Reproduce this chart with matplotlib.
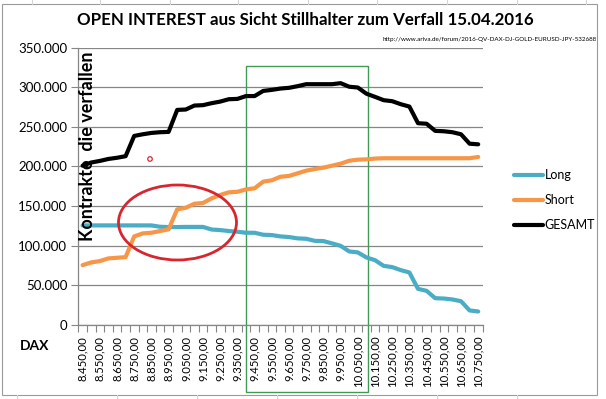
import numpy as np
import matplotlib
matplotlib.use("Agg")
import matplotlib.pyplot as plt
import matplotlib.patches as patches
from matplotlib.ticker import FuncFormatter

# strikes (DAX) and open interest, in thousand contracts
strikes = list(range(8450, 10751, 50))
long_k = [125.5, 125.5, 125.5, 125.5, 125.5, 125.5, 125.5, 125.5, 125.5,
          123.8, 123.4, 123.4, 123.6, 123.6, 123.6,
          120.3, 119.6, 118.4, 117.5, 116.2, 116.2, 113.7, 113.3, 111.6, 110.8,
          109.1, 108.6, 106.0, 105.7, 102.8, 99.7,
          92.6, 91.4, 85.0, 81.6, 74.4, 72.8, 69.0, 66.0, 45.3, 42.8,
          33.5, 33.1, 31.9, 29.7, 18.0, 16.7]
short_k = [75.3, 78.7, 80.4, 83.8, 84.6, 85.4, 111.6, 115.4, 116.2, 118.4,
           120.5, 145.8, 147.8, 152.9, 153.8,
           159.7, 164.0, 167.3, 168.0, 171.0, 172.4, 180.8, 182.5, 187.0, 188.0,
           191.4, 194.7, 196.8, 198.5, 201.0, 203.5,
           207.2, 208.6, 209.0, 210.0, 210.4, 210.4, 210.4, 210.4, 210.4, 210.4,
           210.4, 210.4, 210.4, 210.4, 210.4, 212.0]
gesamt_k = [201.0, 205.0, 207.0, 209.5, 211.0, 213.0, 238.6, 240.7, 242.4, 243.3,
            243.7, 271.5, 272.0, 277.0, 277.5, 280.0,
            282.0, 285.0, 285.4, 289.0, 289.0, 295.5, 296.8, 298.5, 299.4, 301.5,
            304.0, 304.0, 304.0, 304.0, 305.3, 300.8,
            299.8, 292.0, 288.0, 283.8, 282.5, 278.7, 275.7, 254.7, 254.0, 245.0,
            244.5, 243.3, 240.7, 228.8, 228.0]
series_names = ["Long", "Short", "GESAMT"]
series_colors = ["#4bacc6", "#f79646", "#000000"]

title = "OPEN INTEREST aus Sicht Stillhalter zum Verfall 15.04.2016"
url = "http://www.ariva.de/forum/2016-QV-DAX-DJ-GOLD-EURUSD-JPY-532688"

W, H = 606, 399
FONT = "Lato"
GRID = "#868686"


def fx(px):
    return px / W


def fy(py):
    return 1 - py / H


def de_num(v):
    return f"{v:,.0f}".replace(",", ".")


def de_strike(v):
    return f"{v:,.2f}".replace(",", "X").replace(".", ",").replace("X", ".")


fig = plt.figure(figsize=(W / 100, H / 100), dpi=100)
fig.patch.set_facecolor("white")

# excel sheet cell lines around the chart
for x in [32, 100, 170, 238, 308, 377, 447, 517, 586]:
    fig.add_artist(plt.Line2D([fx(x), fx(x)], [fy(0), fy(4)], color="#d4d4d4", lw=0.8))
for x in [17, 117, 197, 277, 357, 437, 517]:
    fig.add_artist(plt.Line2D([fx(x), fx(x)], [fy(395), fy(399)], color="#d4d4d4", lw=0.8))
fig.add_artist(patches.Rectangle((fx(2), fy(395)), fx(597) - fx(2), fy(4) - fy(395),
                                 transform=fig.transFigure, fill=False,
                                 edgecolor="#9a9a9a", lw=0.8))

ax = fig.add_axes([fx(78.3), fy(324.7), fx(482.5) - fx(78.3), fy(47.8) - fy(324.7)])
x = np.arange(len(strikes))
lines = []
for vals, name, col in zip([long_k, short_k, gesamt_k], series_names, series_colors):
    ln, = ax.plot(x, np.array(vals) * 1000, color=col, lw=3.0, label=name,
                  solid_joinstyle="round", solid_capstyle="round", zorder=3)
    lines.append(ln)

ax.set_xlim(-0.5, len(strikes) - 0.5)
ax.set_ylim(0, 350000)
ax.set_yticks(np.arange(0, 350001, 50000))
ax.yaxis.set_major_formatter(FuncFormatter(lambda v, p: de_num(v)))
ax.grid(axis="y", color=GRID, lw=0.9, zorder=0)
ax.set_axisbelow(True)

ax.set_xticks(np.arange(-0.5, len(strikes), 1))
ax.set_xticklabels([])
ax.set_xticks(x[::2], minor=True)
ax.set_xticklabels([de_strike(s) for s in strikes[::2]], minor=True, rotation=90,
                   fontfamily=FONT, fontsize=8.2, va="top")
ax.tick_params(axis="x", which="major", length=5, color=GRID, width=0.8)
ax.tick_params(axis="x", which="minor", length=0, pad=8)
ax.tick_params(axis="y", length=5, color=GRID, width=0.8, pad=3, labelsize=9.5)
for lab in ax.get_yticklabels():
    lab.set_fontfamily(FONT)
for side in ["top", "right"]:
    ax.spines[side].set_visible(False)
for side in ["left", "bottom"]:
    ax.spines[side].set_color(GRID)
    ax.spines[side].set_linewidth(0.9)

# green box around the strikes near the current index
ax.add_patch(patches.Rectangle((fx(246), fy(391.7)), fx(368.3) - fx(246), fy(66) - fy(391.7),
                               transform=fig.transFigure, fill=False, edgecolor="#3f9a55",
                               lw=1.0, clip_on=False, zorder=2))

# red annotations
fig.add_artist(patches.Ellipse((fx(177.5), fy(222.5)), 118 / W, 75 / H,
                               transform=fig.transFigure, fill=False,
                               edgecolor="#d7262f", lw=2.0))
fig.add_artist(patches.Ellipse((fx(150), fy(159)), 4.5 / W, 4.5 / H,
                               transform=fig.transFigure, fill=False,
                               edgecolor="#d7262f", lw=0.9))

fig.text(fx(305), fy(20), title, ha="center", va="center", fontfamily=FONT,
         fontweight="bold", fontsize=12.2)
fig.text(fx(597), fy(40), url, ha="right", va="center", fontfamily=FONT, fontsize=4.5)
fig.text(fx(87.5), fy(146), "Kontrakte  die verfallen", rotation=90, ha="center",
         va="center", fontfamily=FONT, fontweight="bold", fontsize=13)
fig.text(fx(35), fy(346), "DAX", ha="center", va="center", fontfamily=FONT,
         fontweight="bold", fontsize=10)

fig.legend(handles=lines, loc="center left", bbox_to_anchor=(fx(514), fy(200)),
           bbox_transform=fig.transFigure, frameon=False, prop={"family": FONT, "size": 9},
           handlelength=2.3, handletextpad=0.15, labelspacing=1.05,
           borderaxespad=0, borderpad=0)

fig.savefig("out.png", dpi=100)
